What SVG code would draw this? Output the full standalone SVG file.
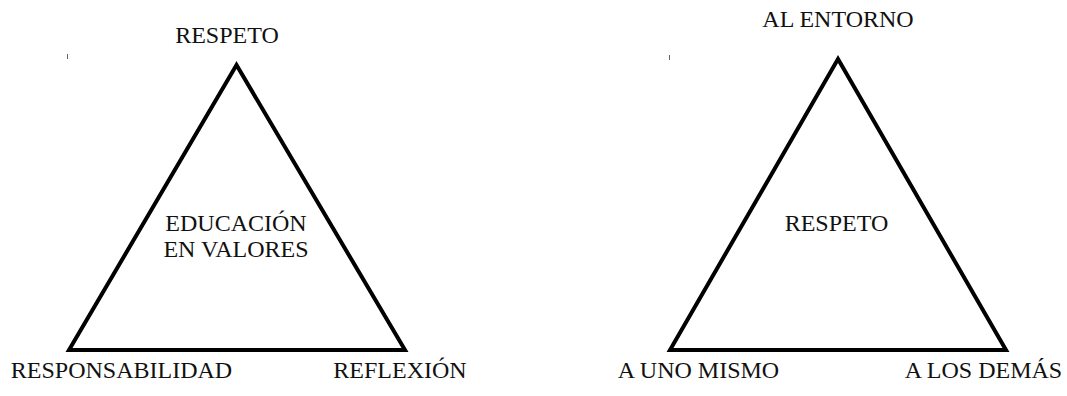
<svg xmlns="http://www.w3.org/2000/svg" width="1067" height="396" viewBox="0 0 1067 396">
  <style>
    .lbl { font-family: 'Liberation Serif', 'Times New Roman', Times, 'DejaVu Serif', serif; font-size: 24px; fill: #111; text-anchor: middle; }
    .tri { fill: none; stroke: #000; stroke-width: 4; stroke-linejoin: miter; }
    .tick { stroke: #666; stroke-width: 1; }
  </style>
  <rect width="1067" height="396" fill="#fff"/>

  <!-- small corner marks -->
  <g id="marks">
    <line class="tick" x1="67.5" y1="54" x2="67.5" y2="59"/>
    <line class="tick" x1="669.5" y1="55" x2="669.5" y2="60"/>
  </g>

  <!-- triangle outlines -->
  <g id="connectors">
    <polygon class="tri" points="236.5,65 69,350 405,350"/>
    <polygon class="tri" points="838,59 670,350 1006,350"/>
  </g>

  <!-- left triangle: values education -->
  <g id="node-educacion">
    <text class="lbl" font-family="Liberation Serif" x="236" y="231">EDUCACIÓN</text>
    <text class="lbl" font-family="Liberation Serif" x="236" y="257">EN VALORES</text>
  </g>
  <g id="node-respeto-top">
    <text class="lbl" font-family="Liberation Serif" x="227" y="43">RESPETO</text>
  </g>
  <g id="node-responsabilidad">
    <text class="lbl" font-family="Liberation Serif" x="121.5" y="378">RESPONSABILIDAD</text>
  </g>
  <g id="node-reflexion">
    <text class="lbl" font-family="Liberation Serif" x="400" y="378">REFLEXIÓN</text>
  </g>

  <!-- right triangle: respect -->
  <g id="node-respeto-center">
    <text class="lbl" font-family="Liberation Serif" x="836.5" y="231">RESPETO</text>
  </g>
  <g id="node-entorno">
    <text class="lbl" font-family="Liberation Serif" x="838" y="27">AL ENTORNO</text>
  </g>
  <g id="node-uno-mismo">
    <text class="lbl" font-family="Liberation Serif" x="698.5" y="378">A UNO MISMO</text>
  </g>
  <g id="node-los-demas">
    <text class="lbl" font-family="Liberation Serif" x="983.5" y="378">A LOS DEMÁS</text>
  </g>
</svg>
